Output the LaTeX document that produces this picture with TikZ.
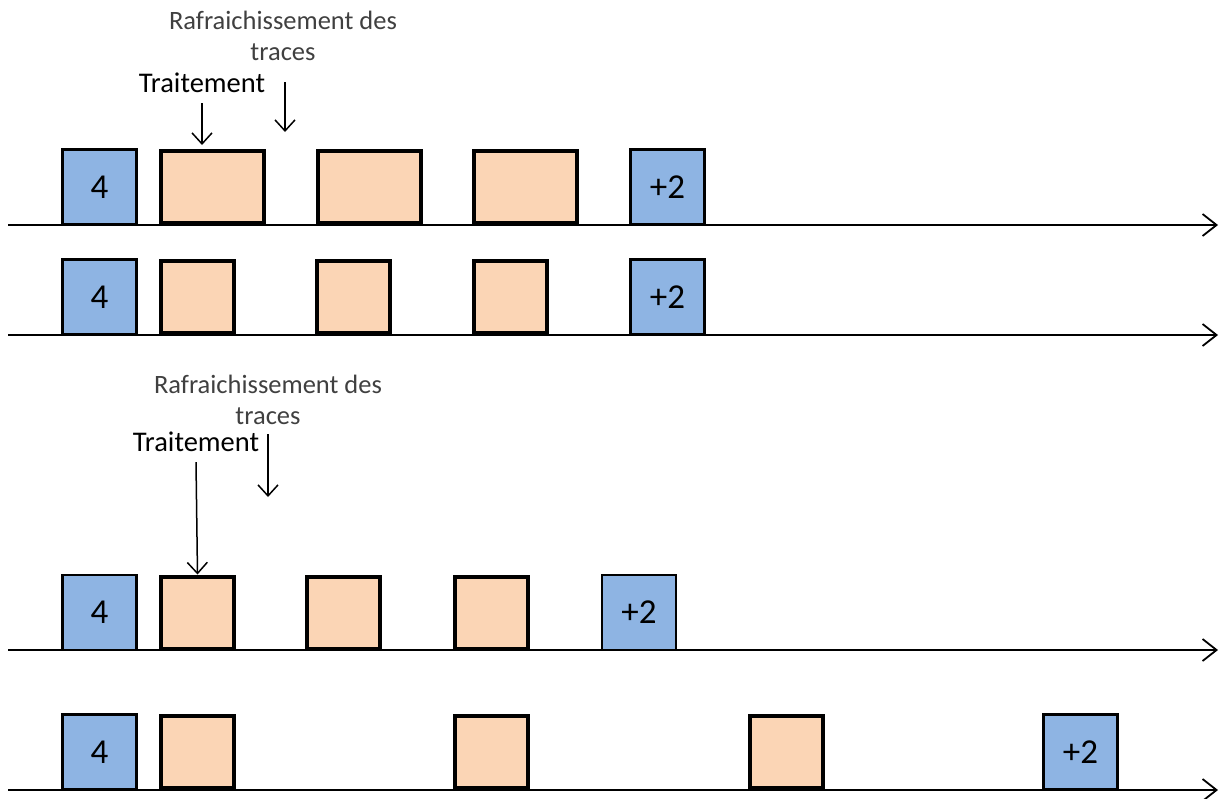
\documentclass[tikz,border=0pt]{standalone}
\usepackage{fontspec}
\setmainfont{Carlito}
\usetikzlibrary{arrows.meta}
\definecolor{slotblue}{HTML}{8EB4E3}
\definecolor{slotpeach}{HTML}{FBD5B5}
\definecolor{lblgray}{HTML}{404040}
\begin{document}
\begin{tikzpicture}[x=1pt,y=-1pt,
 slot/.style={draw,line width=2.2pt,fill=slotblue,minimum width=74pt,minimum height=75pt,inner sep=0pt,font=\fontsize{35}{35}\selectfont},
 task/.style={draw,line width=4pt,fill=slotpeach,minimum width=73pt,minimum height=72pt,inner sep=0pt},
 lbl/.style={font=\fontsize{26.5}{31}\selectfont,align=center,inner sep=0pt},
 trt/.style={font=\fontsize{28.5}{31}\selectfont,inner sep=0pt},
 tip/.style={-{Straight Barb[length=11pt,width=20pt]},line width=1.5pt},
 axis/.style={-{Straight Barb[length=14pt,width=22pt]},line width=1.8pt}]
\useasboundingbox(0,0)rectangle(1220,798);
% time lines
\coordinate(s1)at(8,225);\coordinate(e1)at(1218,225);
\coordinate(s2)at(8,335);\coordinate(e2)at(1218,335);
\coordinate(s3)at(8,650);\coordinate(e3)at(1218,650);
\coordinate(s4)at(8,790);\coordinate(e4)at(1218,790);
\foreach \r in {1,2,3,4}{\draw[axis](s\r)--(e\r);}
% first case
\node[slot](a0)at(99.5,187){4};
\node[task,minimum width=103pt](a1)at(212.5,187){};
\node[task,minimum width=103pt](a2)at(369,187){};
\node[task,minimum width=103pt](a3)at(525.5,187){};
\node[slot](a4)at(667.5,187){+2};
\node[slot](b0)at(99.5,297){4};
\node[task](b1)at(197.5,297){};
\node[task](b2)at(353.5,297){};
\node[task](b3)at(510.5,297){};
\node[slot](b4)at(667.5,297){+2};
\node[lbl,text=lblgray](r1)at(283,36){Rafraichissement des\\traces};
\node[trt](t1)at(202,83){Traitement};
\coordinate(f1)at(285,132);
\draw[tip,shorten >=4pt]([yshift=-10pt]t1.south)--(t1.south|-a1.north);
\draw[tip](285,82)--(f1);
% second case
\node[slot](c0)at(99.5,612.5){4};
\node[task](c1)at(197.5,612.5){};
\node[task](c2)at(343.5,612.5){};
\node[task](c3)at(491.5,612.5){};
\node[slot](c4)at(639,612.5){+2};
\node[slot](d0)at(99.5,752){4};
\node[task](d1)at(197.5,752){};
\node[task](d2)at(491.5,752){};
\node[task](d3)at(786.5,752){};
\node[slot](d4)at(1080.5,752){+2};
\node[lbl,text=lblgray](r2)at(268,400){Rafraichissement des\\traces};
\node[trt](t2)at(196,442){Traitement};
\coordinate(f2)at(268,497);
\draw[tip]([yshift=-10pt]t2.south)--(c1.north);
\draw[tip](268,434)--(f2);
\end{tikzpicture}
\end{document}
